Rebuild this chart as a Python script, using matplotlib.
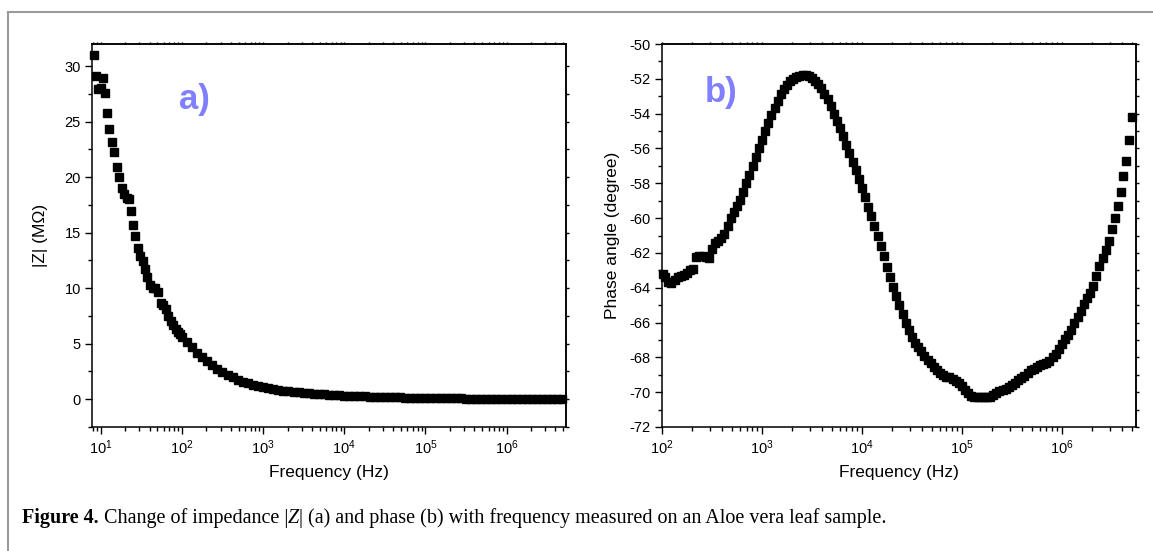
import matplotlib
matplotlib.use('Agg')
import matplotlib.pyplot as plt
from matplotlib.lines import Line2D
from matplotlib.ticker import LogLocator, MultipleLocator, NullFormatter

# |Z| vs frequency (panel a), values in MOhm
freq_a = [8.3, 8.8, 9.2, 10.1, 10.6, 11.4, 12.1, 12.8, 13.8, 14.7, 15.8, 17.0, 18.2, 19.4,
          20.9, 22.0, 23.5, 25.1, 26.7, 28.6, 30.5, 33.0, 35.2, 37.6, 40.6, 43.5, 47.0, 51.0,
          55.0, 59.0, 63.0, 68.0, 73.0, 78.0, 84.0, 90.0, 96.0,
          100, 115.5, 133.4, 154, 177.8, 205.4, 237.1, 273.8, 316.2, 365.2, 421.7, 487, 562.3,
          649.4, 749.9, 866,
          1000, 1155, 1334, 1540, 1778, 2054, 2371, 2738, 3162, 3652, 4217, 4870, 5623, 6494,
          7499, 8660,
          1.0e4, 1.155e4, 1.334e4, 1.54e4, 1.778e4, 2.054e4, 2.371e4, 2.738e4, 3.162e4, 3.652e4,
          4.217e4, 4.87e4, 5.623e4, 6.494e4, 7.499e4, 8.66e4,
          1.0e5, 1.155e5, 1.334e5, 1.54e5, 1.778e5, 2.054e5, 2.371e5, 2.738e5, 3.162e5, 3.652e5,
          4.217e5, 4.87e5, 5.623e5, 6.494e5, 7.499e5, 8.66e5,
          1.0e6, 1.155e6, 1.334e6, 1.54e6, 1.778e6, 2.054e6, 2.371e6, 2.738e6, 3.162e6, 3.652e6,
          4.217e6, 4.87e6]
z_mod = [31.0, 29.1, 27.95, 28.05, 28.95, 27.6, 25.8, 24.3, 23.2, 22.3, 20.95, 20.0, 19.05, 18.5,
         18.15, 18.05, 17.0, 15.7, 14.7, 13.6, 12.9, 12.45, 11.7, 11.0, 10.3, 10.05, 10.0, 9.7,
         8.7, 8.45, 8.1, 7.5, 7.05, 6.7, 6.35, 6.1, 5.85,
         5.65, 5.2, 4.7, 4.2, 3.8, 3.42, 3.05, 2.72, 2.45, 2.2, 1.97, 1.76, 1.58, 1.42, 1.28, 1.16,
         1.06, 0.97, 0.90, 0.83, 0.77, 0.72, 0.67, 0.62, 0.58, 0.54, 0.50, 0.47, 0.44, 0.41, 0.38, 0.35,
         0.33, 0.31, 0.29, 0.27, 0.25, 0.24, 0.22, 0.21, 0.20, 0.18, 0.17, 0.16, 0.15, 0.14, 0.13, 0.12,
         0.11, 0.10, 0.095, 0.09, 0.085, 0.08, 0.075, 0.07, 0.065, 0.06, 0.055, 0.05, 0.047, 0.044,
         0.041, 0.038,
         0.035, 0.033, 0.031, 0.029, 0.027, 0.025, 0.024, 0.023, 0.022, 0.021, 0.020, 0.019]

# phase angle vs frequency (panel b), degrees
freq_b = [103, 107.5, 115.5, 124.1, 133.4, 143.3, 154.0, 165.5, 177.8, 191.1, 205.4, 220.7, 237.1,
          254.8, 273.8, 294.3, 316.2, 339.8, 365.2, 392.4, 421.7, 453.2, 487.0, 523.3, 562.3, 604.3,
          649.4, 697.8, 749.9, 805.8, 866.0, 930.6,
          1000, 1075, 1155, 1241, 1334, 1433, 1540, 1655, 1778, 1911, 2054, 2207, 2371, 2548, 2738,
          2943, 3162, 3398, 3652, 3924, 4217, 4532, 4870, 5233, 5623, 6043, 6494, 6978, 7499, 8058,
          8660, 9306,
          1.0e4, 1.075e4, 1.155e4, 1.241e4, 1.334e4, 1.433e4, 1.54e4, 1.655e4, 1.778e4, 1.911e4,
          2.054e4, 2.207e4, 2.371e4, 2.548e4, 2.738e4, 2.943e4, 3.162e4, 3.398e4, 3.652e4, 3.924e4,
          4.217e4, 4.532e4, 4.87e4, 5.233e4, 5.623e4, 6.043e4, 6.494e4, 6.978e4, 7.499e4, 8.058e4,
          8.66e4, 9.306e4,
          1.0e5, 1.075e5, 1.155e5, 1.241e5, 1.334e5, 1.433e5, 1.54e5, 1.655e5, 1.778e5, 1.911e5,
          2.054e5, 2.207e5, 2.371e5, 2.548e5, 2.738e5, 2.943e5, 3.162e5, 3.398e5, 3.652e5, 3.924e5,
          4.217e5, 4.532e5, 4.87e5, 5.233e5, 5.623e5, 6.043e5, 6.494e5, 6.978e5, 7.499e5, 8.058e5,
          8.66e5, 9.306e5,
          1.0e6, 1.075e6, 1.155e6, 1.241e6, 1.334e6, 1.433e6, 1.54e6, 1.655e6, 1.778e6, 1.911e6,
          2.054e6, 2.207e6, 2.371e6, 2.548e6, 2.738e6, 2.943e6, 3.162e6, 3.36e6, 3.6e6, 3.85e6,
          4.12e6, 4.38e6, 4.69e6, 5.02e6]
phase = [-63.2, -63.4, -63.65, -63.7, -63.55, -63.4, -63.35, -63.25, -63.15, -63.0,
         -62.95, -62.25, -62.15, -62.2, -62.25, -62.3, -61.75, -61.45, -61.3, -61.15,
         -60.9, -60.45, -60.0, -59.65, -59.3, -58.95, -58.5, -58.0, -57.5, -57.0, -56.5, -55.95,
         -55.5, -55.0, -54.55, -54.1, -53.65, -53.25, -52.9, -52.6, -52.35, -52.15, -52.0, -51.9,
         -51.82, -51.8, -51.8, -51.85, -51.95, -52.1, -52.3, -52.55, -52.85, -53.15, -53.55, -54.0,
         -54.4, -54.85, -55.3, -55.8, -56.25, -56.75, -57.25, -57.75,
         -58.3, -58.8, -59.35, -59.9, -60.45, -61.0, -61.6, -62.2, -62.8, -63.4, -63.95, -64.5,
         -65.0, -65.5, -66.0, -66.45, -66.85, -67.15, -67.4, -67.65, -67.9, -68.15, -68.35, -68.55,
         -68.75, -68.9, -69.0, -69.1, -69.15, -69.25, -69.35, -69.5,
         -69.65, -69.85, -70.05, -70.2, -70.28, -70.3, -70.3, -70.3, -70.3, -70.25, -70.15, -70.05,
         -69.95, -69.88, -69.8, -69.7, -69.6, -69.45, -69.3, -69.2, -69.05, -68.9, -68.75, -68.65,
         -68.55, -68.45, -68.4, -68.3, -68.2, -68.0, -67.8, -67.5,
         -67.25, -66.95, -66.7, -66.4, -66.05, -65.7, -65.35, -64.95, -64.6, -64.3, -63.9, -63.35,
         -62.75, -62.3, -61.85, -61.3, -60.65, -60.0, -59.3, -58.5, -57.6, -56.7, -55.5, -54.2]

plt.rcParams['font.family'] = ['Liberation Sans', 'DejaVu Sans']
plt.rcParams['axes.unicode_minus'] = False

W, H = 1153, 551
fig = plt.figure(figsize=(W / 100, H / 100), dpi=100)


def add_axes_px(left, top, right, bottom):
    return fig.add_axes([left / W, 1 - bottom / H, (right - left) / W, (bottom - top) / H])


def style_axes(ax):
    ax.set_xscale('log')
    ax.xaxis.set_major_locator(LogLocator(base=10, numticks=20))
    ax.xaxis.set_minor_locator(LogLocator(base=10, subs=range(2, 10), numticks=20))
    ax.xaxis.set_minor_formatter(NullFormatter())
    ax.tick_params(which='both', direction='out', width=1, labelsize=10.5, colors='black')
    ax.tick_params(which='major', length=5, pad=3)
    ax.tick_params(which='minor', length=3)
    for sp in ax.spines.values():
        sp.set_linewidth(1.1)
    # short mirror ticks on top and right, like Origin
    top = ax.secondary_xaxis('top')
    top.xaxis.set_major_locator(LogLocator(base=10, numticks=20))
    top.xaxis.set_minor_locator(LogLocator(base=10, subs=range(2, 10), numticks=20))
    top.tick_params(which='both', direction='out', length=1.8, width=1,
                    labelbottom=False, labeltop=False)
    top.spines['top'].set_linewidth(1.1)
    right = ax.secondary_yaxis('right')
    right.yaxis.set_major_locator(ax.yaxis.get_major_locator())
    right.yaxis.set_minor_locator(ax.yaxis.get_minor_locator())
    right.tick_params(which='both', direction='out', length=1.8, width=1,
                      labelright=False, labelleft=False)
    right.spines['right'].set_linewidth(1.1)


# panel a
ax_a = add_axes_px(92, 44, 566, 427)
ax_a.plot(freq_a, z_mod, 's', color='black', markersize=6, clip_on=False)
ax_a.set_xlim(7.8, 5.4e6)
ax_a.set_ylim(-2.5, 32)
ax_a.yaxis.set_major_locator(MultipleLocator(5))
ax_a.yaxis.set_minor_locator(MultipleLocator(2.5))
style_axes(ax_a)
ax_a.set_xlabel('Frequency (Hz)', fontsize=12.5, labelpad=6)
ax_a.set_ylabel('|Z| (M\u03a9)', fontsize=12.5, labelpad=12)

# panel b
ax_b = add_axes_px(662, 44, 1136, 427)
ax_b.plot(freq_b, phase, 's', color='black', markersize=6, clip_on=False)
ax_b.set_xlim(100, 5.5e6)
ax_b.set_ylim(-72, -50)
ax_b.yaxis.set_major_locator(MultipleLocator(2))
ax_b.yaxis.set_minor_locator(MultipleLocator(1))
style_axes(ax_b)
ax_b.set_xlabel('Frequency (Hz)', fontsize=12.5, labelpad=6)
ax_b.set_ylabel('Phase angle (degree)', fontsize=12.5, labelpad=7)

# panel letters
fig.text(179 / W, 1 - 109 / H, 'a)', color='#7f7fff', fontsize=25, fontweight='bold',
         ha='left', va='baseline')
fig.text(705 / W, 1 - 102 / H, 'b)', color='#7f7fff', fontsize=25, fontweight='bold',
         ha='left', va='baseline')

# grey frame (top and left edges)
fig.add_artist(Line2D([8 / W, 8 / W], [0, 1 - 12 / H], transform=fig.transFigure,
                      color='#9a9a9a', linewidth=1.5))
fig.add_artist(Line2D([8 / W, 1], [1 - 12 / H, 1 - 12 / H], transform=fig.transFigure,
                      color='#9a9a9a', linewidth=1.5))

# caption, drawn piece by piece so only "Figure 4." is bold and Z is italic
caption = [('Figure 4.', {'fontweight': 'bold'}),
           (' Change of impedance |', {}),
           ('Z', {'fontstyle': 'italic'}),
           ('| (a) and phase (b) with frequency measured on an Aloe vera leaf sample.', {})]


def draw_caption(size):
    renderer = fig.canvas.get_renderer()
    x = 22 / W
    items = []
    for s, kw in caption:
        t = fig.text(x, 1 - 523 / H, s, fontsize=size, family='Liberation Serif',
                     va='baseline', ha='left', **kw)
        bb = t.get_window_extent(renderer)
        x = bb.x1 / W
        items.append(t)
    return items, x * W


items, x_end = draw_caption(12)
for t in items:
    t.remove()
draw_caption(12 * (887 - 22) / (x_end - 22))

fig.savefig('out.png', dpi=100)
